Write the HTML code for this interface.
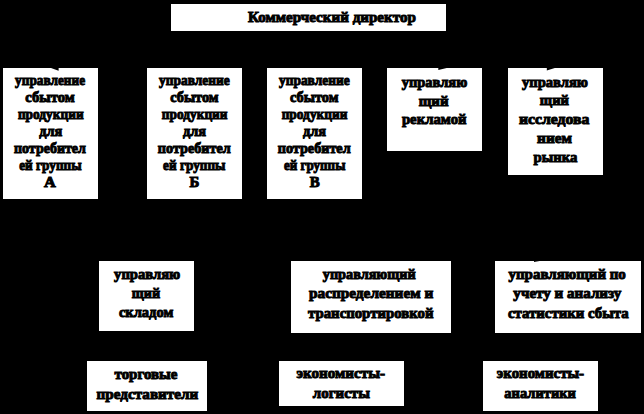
<!DOCTYPE html>
<html><head><meta charset="utf-8"><style>
html,body{margin:0;padding:0;background:#000;width:644px;height:414px;overflow:hidden;position:relative}
.b{position:absolute;background:#fff}
.t{position:absolute;white-space:nowrap;text-align:center;font-family:"Liberation Serif",serif;font-weight:bold;font-size:15px;line-height:20px;height:20px;color:#000;-webkit-text-stroke:1.0px #000}
</style></head><body>

<div class="b" style="left:171.1px;top:3.7px;width:274.9px;height:27.7px"></div>
<div class="t" style="left:131.1px;width:354.9px;top:6.53px;transform-origin:177.40px 50%;transform:translateX(23.50px) scaleX(1.0060);">Коммерческий директор</div>
<div class="b" style="left:3.3px;top:68.4px;width:95.1px;height:131.0px"></div>
<div class="t" style="left:-36.7px;width:175.1px;top:69.73px;transform-origin:87.70px 50%;transform:translateX(-0.47px) scaleX(0.8866);">управление</div>
<div class="t" style="left:-36.7px;width:175.1px;top:86.75px;transform-origin:87.70px 50%;transform:translateX(-0.50px) scaleX(0.9760);">сбытом</div>
<div class="t" style="left:-36.7px;width:175.1px;top:103.77px;transform-origin:87.70px 50%;transform:translateX(0.20px) scaleX(0.8919);">продукции</div>
<div class="t" style="left:-36.7px;width:175.1px;top:120.79px;transform-origin:87.20px 50%;transform:translateX(0.20px) scaleX(0.9520);">для</div>
<div class="t" style="left:-36.7px;width:175.1px;top:137.81px;transform-origin:87.70px 50%;transform:translateX(-0.60px) scaleX(0.9333);">потребител</div>
<div class="t" style="left:-36.7px;width:175.1px;top:154.83px;transform-origin:87.70px 50%;transform:translateX(-0.15px) scaleX(0.8843);">ей группы</div>
<div class="t" style="left:-36.7px;width:175.1px;top:171.85px;transform-origin:87.70px 50%;transform:translateX(-0.60px) scaleX(1.0833);">А</div>
<div class="b" style="left:147.2px;top:68.4px;width:95.0px;height:131.0px"></div>
<div class="t" style="left:107.2px;width:175.0px;top:69.73px;transform-origin:87.30px 50%;transform:translateX(-0.07px) scaleX(0.8978);">управление</div>
<div class="t" style="left:107.2px;width:175.0px;top:86.75px;transform-origin:87.30px 50%;transform:translateX(-0.10px) scaleX(0.9569);">сбытом</div>
<div class="t" style="left:107.2px;width:175.0px;top:103.77px;transform-origin:87.80px 50%;transform:translateX(0.10px) scaleX(0.8919);">продукции</div>
<div class="t" style="left:107.2px;width:175.0px;top:120.79px;transform-origin:87.30px 50%;transform:translateX(0.10px) scaleX(0.9520);">для</div>
<div class="t" style="left:107.2px;width:175.0px;top:137.81px;transform-origin:87.30px 50%;transform:translateX(-0.20px) scaleX(0.9455);">потребител</div>
<div class="t" style="left:107.2px;width:175.0px;top:154.83px;transform-origin:87.80px 50%;transform:translateX(-0.25px) scaleX(0.8843);">ей группы</div>
<div class="t" style="left:107.2px;width:175.0px;top:171.85px;transform-origin:87.30px 50%;transform:translateX(0.03px) scaleX(0.9922);">Б</div>
<div class="b" style="left:267.0px;top:68.4px;width:95.2px;height:131.0px"></div>
<div class="t" style="left:227.0px;width:175.2px;top:69.73px;transform-origin:87.50px 50%;transform:translateX(-0.26px) scaleX(0.8978);">управление</div>
<div class="t" style="left:227.0px;width:175.2px;top:86.75px;transform-origin:87.50px 50%;transform:translateX(-0.30px) scaleX(0.9569);">сбытом</div>
<div class="t" style="left:227.0px;width:175.2px;top:103.77px;transform-origin:88.00px 50%;transform:translateX(-0.10px) scaleX(0.8919);">продукции</div>
<div class="t" style="left:227.0px;width:175.2px;top:120.79px;transform-origin:87.50px 50%;transform:translateX(-0.10px) scaleX(0.9520);">для</div>
<div class="t" style="left:227.0px;width:175.2px;top:137.81px;transform-origin:87.50px 50%;transform:translateX(-0.40px) scaleX(0.9455);">потребител</div>
<div class="t" style="left:227.0px;width:175.2px;top:154.83px;transform-origin:87.50px 50%;transform:translateX(0.05px) scaleX(0.8718);">ей группы</div>
<div class="t" style="left:227.0px;width:175.2px;top:171.85px;transform-origin:87.50px 50%;transform:translateX(0.05px) scaleX(0.9909);">В</div>
<div class="b" style="left:387.1px;top:68.4px;width:95.3px;height:83.0px"></div>
<div class="t" style="left:347.1px;width:175.3px;top:71.73px;transform-origin:87.40px 50%;transform:translateX(-0.15px) scaleX(0.9638);">управляю</div>
<div class="t" style="left:347.1px;width:175.3px;top:90.58px;transform-origin:87.90px 50%;transform:translateX(-1.05px) scaleX(0.9967);">щий</div>
<div class="t" style="left:347.1px;width:175.3px;top:109.43px;transform-origin:87.90px 50%;transform:translateX(-0.45px) scaleX(0.9833);">рекламой</div>
<div class="b" style="left:507.5px;top:68.4px;width:95.0px;height:106.9px"></div>
<div class="t" style="left:467.5px;width:175.0px;top:71.73px;transform-origin:87.50px 50%;transform:translateX(-0.50px) scaleX(0.9706);">управляю</div>
<div class="t" style="left:467.5px;width:175.0px;top:90.43px;transform-origin:87.50px 50%;transform:translateX(-1.10px) scaleX(0.9733);">щий</div>
<div class="t" style="left:467.5px;width:175.0px;top:109.13px;transform-origin:88.00px 50%;transform:translateX(-1.35px) scaleX(1.0493);">исследова</div>
<div class="t" style="left:467.5px;width:175.0px;top:127.83px;transform-origin:87.50px 50%;transform:translateX(-0.90px) scaleX(1.0235);">нием</div>
<div class="t" style="left:467.5px;width:175.0px;top:146.53px;transform-origin:87.00px 50%;transform:translateX(0.00px) scaleX(0.9822);">рынка</div>
<div class="b" style="left:99.0px;top:260.6px;width:95.2px;height:70.9px"></div>
<div class="t" style="left:59.0px;width:175.2px;top:263.73px;transform-origin:87.00px 50%;transform:translateX(0.60px) scaleX(0.9735);">управляю</div>
<div class="t" style="left:59.0px;width:175.2px;top:282.68px;transform-origin:87.50px 50%;transform:translateX(-0.65px) scaleX(0.9452);">щий</div>
<div class="t" style="left:59.0px;width:175.2px;top:301.63px;transform-origin:88.00px 50%;transform:translateX(-0.50px) scaleX(0.9679);">складом</div>
<div class="b" style="left:291.0px;top:260.7px;width:160.0px;height:72.3px"></div>
<div class="t" style="left:251.0px;width:240.0px;top:263.73px;transform-origin:120.00px 50%;transform:translateX(-1.75px) scaleX(0.9500);">управляющий</div>
<div class="t" style="left:251.0px;width:240.0px;top:283.13px;transform-origin:120.00px 50%;transform:translateX(0.15px) scaleX(1.0205);">распределением и</div>
<div class="t" style="left:251.0px;width:240.0px;top:302.53px;transform-origin:120.00px 50%;transform:translateX(-0.25px) scaleX(0.9867);">транспортировкой</div>
<div class="b" style="left:495.0px;top:260.7px;width:146.0px;height:72.3px"></div>
<div class="t" style="left:455.0px;width:226.0px;top:263.68px;transform-origin:113.00px 50%;transform:translateX(-0.80px) scaleX(0.9966);">управляющий по</div>
<div class="t" style="left:455.0px;width:226.0px;top:283.18px;transform-origin:113.00px 50%;transform:translateX(-0.65px) scaleX(1.0046);">учету и анализу</div>
<div class="t" style="left:455.0px;width:226.0px;top:302.68px;transform-origin:113.00px 50%;transform:translateX(0.30px) scaleX(0.9885);">статистики сбыта</div>
<div class="b" style="left:87.0px;top:361.0px;width:119.8px;height:49.5px"></div>
<div class="t" style="left:47.0px;width:199.8px;top:363.73px;transform-origin:100.00px 50%;transform:translateX(-0.95px) scaleX(0.9984);">торговые</div>
<div class="t" style="left:47.0px;width:199.8px;top:383.73px;transform-origin:99.50px 50%;transform:translateX(0.50px) scaleX(1.0099);">представители</div>
<div class="b" style="left:279.0px;top:361.0px;width:125.2px;height:45.4px"></div>
<div class="t" style="left:239.0px;width:205.2px;top:363.43px;transform-origin:103.00px 50%;transform:translateX(-0.85px) scaleX(1.0080);">экономисты-</div>
<div class="t" style="left:239.0px;width:205.2px;top:382.73px;transform-origin:102.50px 50%;transform:translateX(-0.25px) scaleX(0.9982);">логисты</div>
<div class="b" style="left:483.0px;top:361.0px;width:115.0px;height:49.5px"></div>
<div class="t" style="left:443.0px;width:195.0px;top:363.23px;transform-origin:97.50px 50%;transform:translateX(-0.05px) scaleX(0.9921);">экономисты-</div>
<div class="t" style="left:443.0px;width:195.0px;top:383.43px;transform-origin:98.00px 50%;transform:translateX(-0.35px) scaleX(0.9662);">аналитики</div>
<svg style="position:absolute;left:0;top:0" width="644" height="414"><polygon points="51,68 58.6,68 58.6,70.8"/><polygon points="438.3,68 438.3,70 446.7,68"/><polygon points="546.8,68 546.8,70.6 554.8,68"/><polygon points="534,260.5 534,262 542.4,260.5"/></svg>
</body></html>
